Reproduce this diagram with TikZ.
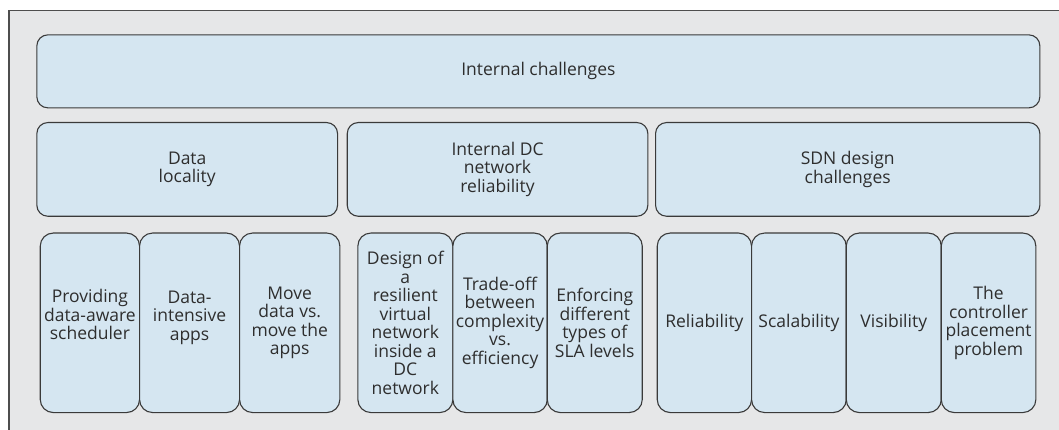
\documentclass[tikz,border=0pt]{standalone}
\usepackage{fontspec}
\setmainfont{Open Sans}
\definecolor{bgc}{HTML}{E6E7E8}
\definecolor{boxc}{HTML}{D5E6F1}
\definecolor{linec}{HTML}{3A3A3A}
\begin{document}
\begin{tikzpicture}[x=1pt,y=-1pt,
  txt/.style={align=center, font=\fontsize{17.5}{18.5}\selectfont, text=black!82, inner sep=0pt},
  box/.style={txt, draw=linec, line width=1.1pt, fill=boxc, rounded corners=11pt, anchor=north west},
  sub/.style={box, rounded corners=13pt, minimum height=179.5pt}]
\useasboundingbox (0,0) rectangle (1059,430);
\fill[bgc] (9,10.5) rectangle (1059,430);
\draw[linec!90, line width=1.2pt] (9,430) -- (9,10.5) -- (1059,10.5);
% top
\node[box, minimum width=1003pt, minimum height=73pt] (top) at (36.3,34.3) {Internal challenges};
% second row
\node[box, minimum width=300.7pt, minimum height=93.7pt] (dl) at (36.3,122) {Data\\locality};
\node[box, minimum width=300.6pt, minimum height=93.7pt] (dc) at (346.7,122) {Internal DC\\network\\reliability};
\node[box, minimum width=384.3pt, minimum height=93.7pt] (sdn) at (655,122) {SDN design\\challenges};
% third row: data locality
\node[sub, minimum width=99.3pt] (a1) at (39.7,232.5) {};
\node[sub, minimum width=100pt] (a2) at (139,232.5) {};
\node[sub, minimum width=100.3pt] (a3) at (239,232.5) {};
\node[txt] (a1t) at (a1.center) [yshift=8pt] {Providing\\data-aware\\scheduler};
\node[txt] (a2t) at (a2.center) [yshift=5pt] {Data-\\intensive\\apps};
\node[txt] (a3t) at (a3.center) {Move\\data vs.\\move the\\apps};
% third row: DC
\node[sub, minimum width=95pt] (b1) at (357.3,232.5) {Design of\\a\\resilient\\virtual\\network\\inside a\\DC\\network};
\node[sub, minimum width=94.4pt] (b2) at (452.3,232.5) {Trade-off\\between\\complexity\\vs.\\efficiency};
\node[sub, minimum width=95pt] (b3) at (546.7,232.5) {Enforcing\\different\\types of\\SLA levels};
% third row: SDN
\node[sub, minimum width=94.3pt] (c1) at (656.7,232.5) {Reliability};
\node[sub, minimum width=94.7pt] (c2) at (751,232.5) {Scalability};
\node[sub, minimum width=95pt] (c3) at (845.7,232.5) {Visibility};
\node[sub, minimum width=94.6pt] (c4) at (940.7,232.5) {The\\controller\\placement\\problem};
\end{tikzpicture}
\end{document}
